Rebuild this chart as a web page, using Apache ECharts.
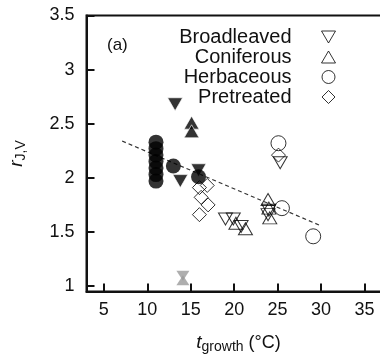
<!DOCTYPE html>
<html>
<head>
<meta charset="utf-8">
<script src="https://cdn.jsdelivr.net/npm/echarts@6/dist/echarts.min.js"></script>
<style>
  html, body { margin: 0; padding: 0; background: #fff; }
  #chart { width: 380px; height: 357px; }
</style>
</head>
<body>
<div id="chart"></div>
<script>
// Growth temperature (°C) vs r_J,V, by plant group
const categories = ['Broadleaved', 'Coniferous', 'Herbaceous', 'Pretreated'];

// open markers
const broadleaved = [[25.3, 2.14], [19.0, 1.62], [19.9, 1.62], [20.8, 1.55], [24.0, 1.70], [23.9, 1.66]];
const coniferous = [[20.2, 1.58], [21.3, 1.53], [23.9, 1.80], [24.0, 1.72], [24.1, 1.63]];
const herbaceous = [[25.1, 2.32], [25.5, 1.72], [29.1, 1.46]];
const pretreated = [[25.1, 2.21], [16.0, 1.91], [16.9, 1.93], [16.2, 1.82], [17.0, 1.75], [16.0, 1.66]];

// filled markers
const broadleavedFilled = [[13.2, 2.68], [13.8, 1.97], [15.9, 2.07]];
const coniferousFilled = [[15.1, 2.51], [15.1, 2.43]];
const herbaceousFilled = [[11, 2.33], [11, 2.27], [11, 2.21], [11, 2.15], [11, 2.09], [11, 2.03], [11, 1.97], [13.0, 2.11], [15.9, 2.01]];

// grey markers
const broadleavedGrey = [[14.1, 1.095]];
const coniferousGrey = [[14.1, 1.055]];

// regression line end points
const fitLine = [[7.1, 2.34], [29.9, 1.56]];

// tick values
const xTicks = [5, 10, 15, 20, 25, 30, 35];
const yTicks = [1, 1.5, 2, 2.5, 3, 3.5];

const FONT = 'Liberation Sans, Arial, sans-serif';
const downTri = 'path://M0,0L14,0L7,12Z';
const upTri = 'path://M7,0L14,12L0,12Z';
const diamond = 'path://M7,0L14,7L7,14L0,7Z';

const openStyle = { color: 'rgba(0,0,0,0)', borderColor: '#000', borderWidth: 1 };
const filledStyle = { color: '#000', borderColor: '#fff', borderWidth: 0.8 };
const greyStyle = { color: '#9a9a9a', borderWidth: 0 };

const chart = echarts.init(document.getElementById('chart'), null, { renderer: 'canvas' });

chart.setOption({
  animation: false,
  textStyle: { fontFamily: FONT, color: '#111' },
  grid: {
    left: 86.5, top: 15.5, width: 304, height: 276,
    outerBoundsMode: 'none',
    containLabel: false,
    show: true, borderColor: '#111', borderWidth: 2, backgroundColor: 'transparent'
  },
  legend: {
    orient: 'vertical',
    align: 'right',
    right: 44,
    top: 27,
    padding: 0,
    itemGap: 0,
    itemWidth: 14,
    itemHeight: 13,
    data: [
      { name: categories[0], icon: downTri },
      { name: categories[1], icon: upTri },
      { name: categories[2], icon: 'circle' },
      { name: categories[3], icon: diamond }
    ],
    itemStyle: { color: 'rgba(0,0,0,0)', borderColor: '#000', borderWidth: 1 },
    textStyle: { fontFamily: FONT, fontSize: 20, color: '#111', lineHeight: 20, padding: [0, 25, 0, 0] }
  },
  graphic: [{
    type: 'text', left: 107, top: 37,
    style: { text: '(a)', font: '17px ' + FONT, fill: '#111' }
  }],
  xAxis: {
    type: 'value', min: 3, max: 38,
    name: '{i|t}{s|growth}{n| (°C)}',
    nameLocation: 'middle',
    nameGap: 40,
    nameTextStyle: {
      rich: {
        i: { fontFamily: FONT, fontSize: 19, fontStyle: 'italic', color: '#111' },
        s: { fontFamily: FONT, fontSize: 14, color: '#111', padding: [9, 0, 0, 0] },
        n: { fontFamily: FONT, fontSize: 18, color: '#111' }
      }
    },
    axisLine: { lineStyle: { color: '#111', width: 2 } },
    axisTick: { inside: true, length: 8, lineStyle: { width: 2, color: '#111' }, customValues: xTicks },
    axisLabel: { fontSize: 18, color: '#111', margin: 10, customValues: xTicks },
    splitLine: { show: false }
  },
  yAxis: {
    type: 'value', min: 0.95, max: 3.5,
    name: '{i|r}{s|J,V}',
    nameLocation: 'middle',
    nameRotate: 90,
    nameGap: 58,
    nameTextStyle: {
      rich: {
        i: { fontFamily: FONT, fontSize: 19, fontStyle: 'italic', color: '#111' },
        s: { fontFamily: FONT, fontSize: 14, color: '#111', padding: [9, 0, 0, 0] }
      }
    },
    axisLine: { lineStyle: { color: '#111', width: 2 } },
    axisTick: { inside: true, length: 8, lineStyle: { width: 2, color: '#111' }, customValues: yTicks },
    axisLabel: { fontSize: 18, color: '#111', margin: 12, customValues: yTicks },
    splitLine: { show: false }
  },
  series: [
    {
      name: 'fit', type: 'line', data: fitLine, symbol: 'none', z: 1,
      lineStyle: { color: '#333', width: 1.2, type: [4, 3] }, silent: true
    },
    { name: categories[0], type: 'scatter', data: broadleaved, symbol: downTri, symbolSize: [14, 12], itemStyle: openStyle, z: 3 },
    { name: categories[1], type: 'scatter', data: coniferous, symbol: upTri, symbolSize: [14, 12], itemStyle: openStyle, z: 3 },
    { name: categories[2], type: 'scatter', data: herbaceous, symbol: 'circle', symbolSize: 15, itemStyle: openStyle, z: 3 },
    { name: categories[3], type: 'scatter', data: pretreated, symbol: diamond, symbolSize: 14, itemStyle: openStyle, z: 3 },
    { name: 'Broadleaved filled', type: 'scatter', data: broadleavedFilled, symbol: downTri, symbolSize: [15, 13], itemStyle: filledStyle, z: 4 },
    { name: 'Coniferous filled', type: 'scatter', data: coniferousFilled, symbol: upTri, symbolSize: [15, 13], itemStyle: filledStyle, z: 4 },
    { name: 'Herbaceous filled', type: 'scatter', data: herbaceousFilled, symbol: 'circle', symbolSize: 15, itemStyle: { color: '#000' }, z: 4 },
    { name: 'Broadleaved grey', type: 'scatter', data: broadleavedGrey, symbol: downTri, symbolSize: [13, 10], itemStyle: greyStyle, z: 4 },
    { name: 'Coniferous grey', type: 'scatter', data: coniferousGrey, symbol: upTri, symbolSize: [13, 10], itemStyle: greyStyle, z: 4 }
  ]
});
</script>
</body>
</html>
